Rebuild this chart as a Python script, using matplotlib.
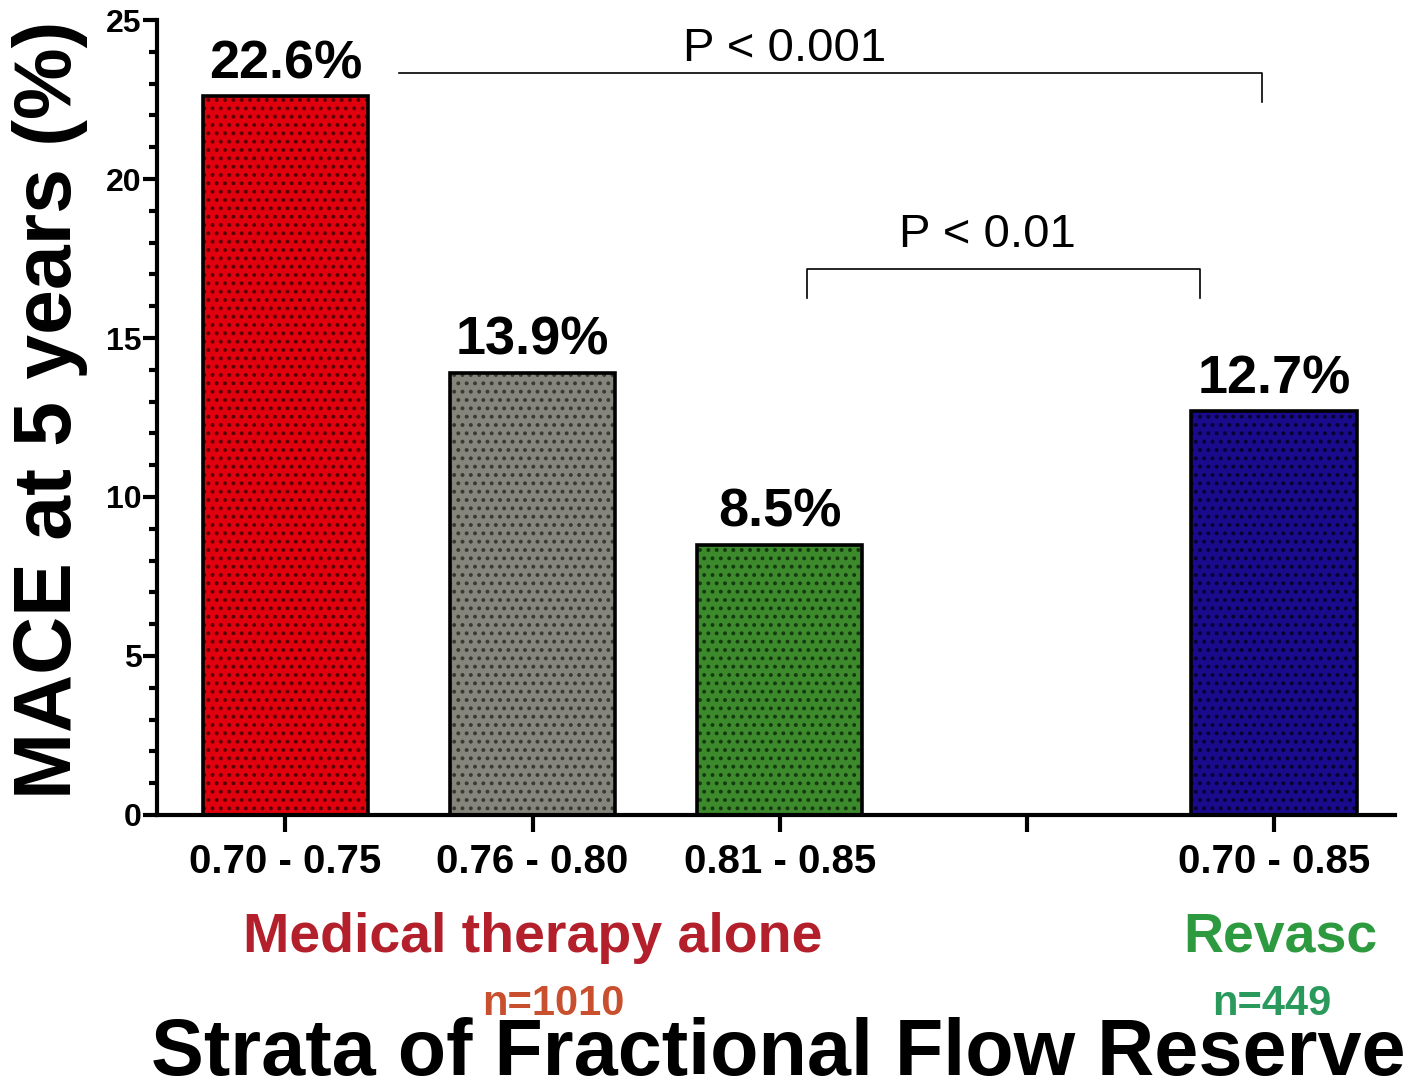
import numpy as np
import matplotlib.pyplot as plt
from matplotlib.ticker import MultipleLocator

plt.rcParams['font.family'] = ['Liberation Sans', 'DejaVu Sans']
plt.rcParams['hatch.linewidth'] = 1.6

# FFR strata, MACE rate at 5 years
strata = ['0.70 - 0.75', '0.76 - 0.80', '0.81 - 0.85', '', '0.70 - 0.85']
mace = [22.6, 13.9, 8.5, None, 12.7]
bar_colors = ['#e0000e', '#85857c', '#3d8a2c', None, '#1a0a8c']
dot_colors = ['#5a0000', '#3a3a34', '#143a10', None, '#070330']
yticks = [0, 5, 10, 15, 20, 25]
groups = ['Medical therapy alone', 'Revasc']
group_n = ['n=1010', 'n=449']

fig = plt.figure(figsize=(14.1, 10.83), dpi=100)
ax = fig.add_axes([0.1113, 0.2475, 0.8781, 0.734])

x = np.arange(len(strata))
for xi, val, fc, dc in zip(x, mace, bar_colors, dot_colors):
    if val is None:
        continue
    ax.bar(xi, val, width=0.67, color=fc, edgecolor='none', zorder=2)
    ax.bar(xi, val, width=0.67, color='none', edgecolor=dc, hatch='..',
           linewidth=0, zorder=3)
    ax.bar(xi, val, width=0.67, color='none', edgecolor='black',
           linewidth=2.6, zorder=4)
    ax.annotate(f'{val}%', (xi, val), xytext=(0, 13), textcoords='offset points',
                ha='center', va='baseline', fontsize=39, fontweight='bold')

ax.set_xlim(-0.52, 4.49)
ax.set_ylim(0, 25)
ax.set_xticks(x, strata, fontsize=29, fontweight='bold')
ax.set_yticks(yticks, [str(t) for t in yticks], fontweight='bold')
ax.yaxis.set_minor_locator(MultipleLocator(1))
ax.tick_params(axis='x', length=12, width=3, pad=8)
ax.tick_params(axis='y', which='major', length=10, width=3, pad=1, labelsize=23)
ax.tick_params(axis='y', which='minor', length=6, width=3)
for side in ['top', 'right']:
    ax.spines[side].set_visible(False)
for side in ['left', 'bottom']:
    ax.spines[side].set_linewidth(3)

fig.text(50 / 1410, 1 - 410 / 1083, 'MACE at 5 years (%)', rotation=90,
         ha='center', va='center', fontsize=58, fontweight='bold')

# significance brackets
ax.plot([0.46, 3.95, 3.95], [23.33, 23.33, 22.42], color='black', lw=1.2,
        clip_on=False)
ax.text(2.02, 24.1, 'P < 0.001', ha='center', va='center', fontsize=34)
ax.plot([2.11, 2.11, 3.70, 3.70], [16.26, 17.17, 17.17, 16.26], color='black',
        lw=1.2, clip_on=False)
ax.text(2.84, 18.25, 'P < 0.01', ha='center', va='center', fontsize=34)

fig.text(533 / 1410, 1 - 952 / 1083, groups[0], ha='center', va='baseline',
         fontsize=40, fontweight='bold', color='#b3202c')
fig.text(1280 / 1410, 1 - 952 / 1083, groups[1], ha='center', va='baseline',
         fontsize=40, fontweight='bold', color='#2e9a40')
fig.text(553 / 1410, 1 - 1015 / 1083, group_n[0], ha='center', va='baseline',
         fontsize=30, fontweight='bold', color='#c9502e')
fig.text(1272 / 1410, 1 - 1015 / 1083, group_n[1], ha='center', va='baseline',
         fontsize=30, fontweight='bold', color='#2a9a5c')
fig.text(778 / 1410, 1 - 1075 / 1083, 'Strata of Fractional Flow Reserve',
         ha='center', va='baseline', fontsize=57, fontweight='bold')

fig.savefig('out.png', dpi=100)
